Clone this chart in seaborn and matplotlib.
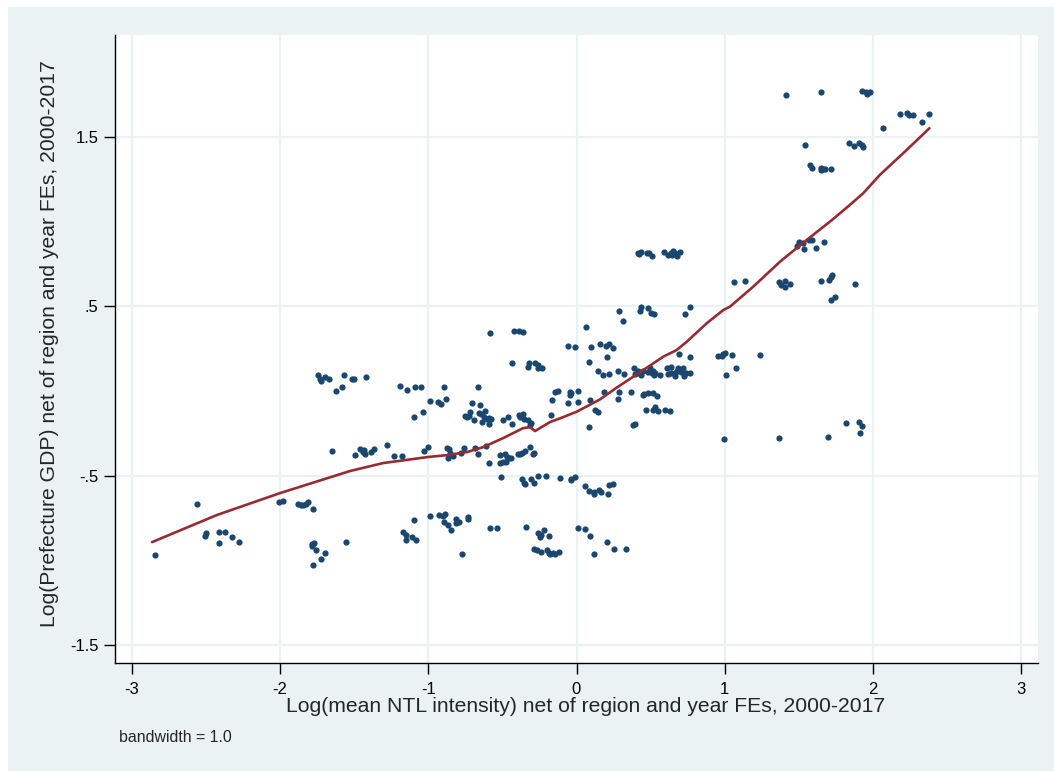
import numpy as np
import pandas as pd
import seaborn as sns
import matplotlib.pyplot as plt
from matplotlib.patches import Rectangle

# scatter: log NTL intensity (x) vs log prefecture GDP (y), both net of FEs
ntl = [
    -1.747, -1.734, -1.727, -1.694, -1.667, -1.566, -1.620, -1.579, -1.512, -1.653,
    -2.560, -2.009, -1.983, -1.882, -1.862, -1.848, -1.828, -1.815, -1.781,
    -2.500, -2.507, -2.413, -2.372, -2.413, -2.325, -2.278, -2.843,
    -1.788, -1.774, -1.788, -1.761, -1.694, -1.727, -1.781, -1.552,
    -0.585, -0.423, -0.390, -0.363, -0.054, -0.437, -0.323, -0.329, -0.282, -0.262, -0.262, -0.235,
    -1.499, -1.418, -1.190, -1.142, -1.089, -1.048, -0.894, -0.665,
    -0.988, -0.934, -0.914, -0.880, -1.035, -1.095,
    -0.706, -0.652, -0.719, -0.753, -0.739, -0.726, -0.692, -0.659, -0.645, -0.618, -0.625, -0.638,
    -0.605, -0.591, -0.578, -0.591,
    -0.497, -0.464, -0.437, -0.390, -0.383, -0.363, -0.356, -0.329, -0.309, -0.316,
    -0.175, -0.168, -0.148, -0.128, -0.060, -0.047, -0.047,
    -1.492, -1.458, -1.431, -1.425, -1.438, -1.384, -1.364, -1.277, -1.230, -1.176,
    -1.028, -1.001, -0.874, -0.860, -0.853, -0.867, -0.833, -0.780, -0.759,
    -0.685, -0.665, -0.612, -0.591,
    -0.517, -0.517, -0.497, -0.484, -0.477, -0.470, -0.457, -0.444, -0.397, -0.383, -0.370, -0.349,
    -0.316, -0.296, -0.289,
    -0.511, -0.370, -0.356, -0.349, -0.309, -0.289, -0.262, -0.208, -0.108, -0.040,
    -0.988, -0.927, -0.901, -0.887, -0.894, -0.867, -0.847, -0.813, -0.813, -0.793, -0.733, -0.733,
    -1.095, -1.169, -1.149, -1.149, -1.109, -1.082,
    -0.585, -0.538, -0.343, -0.773,
    -0.262, -0.242, -0.222, -0.249, -0.188,
    -0.289, -0.269, -0.242, -0.202, -0.188, -0.181, -0.161, -0.148, -0.121,
    0.289, 0.437, 0.430, 0.484, 0.504, 0.524, 0.316, 0.766, 0.733,
    0.067, -0.013, 0.101, 0.161, 0.202, 0.222, 0.249, 0.208, 0.081,
    0.148, 0.181, 0.222, 0.282, 0.323,
    0.390, 0.397, 0.417, 0.423, 0.437, 0.450, 0.484, 0.497, 0.511, 0.524, 0.517, 0.531, 0.565,
    0.612, 0.618, 0.638, 0.638, 0.665, 0.665, 0.679, 0.685, 0.706, 0.719, 0.726, 0.739, 0.766,
    0.692, 0.766,
    0.954, 0.981, 0.988, 1.001, 1.048, 1.075, 1.008, 1.237, 0.995,
    -0.034, 0.007, 0.013, 0.094, 0.188, 0.289, 0.282, 0.370,
    0.450, 0.457, 0.484, 0.517, 0.544,
    0.128, 0.148, 0.087, 0.383, 0.397,
    0.470, 0.517, 0.531, 0.551, 0.598, 0.632,
    -0.034, -0.007, 0.060, 0.087, 0.121, 0.121, 0.155, 0.168, 0.222, 0.249, 0.215,
    0.013, 0.054, 0.094, 0.208, 0.255, 0.336, 0.121,
    0.417, 0.437, 0.477, 0.491, 0.511, 0.423,
    0.591, 0.618, 0.638, 0.652, 0.665, 0.679, 0.699, 0.645,
    1.411, 1.653, 1.929, 1.956, 1.962, 1.983,
    2.184, 2.231, 2.245, 2.272, 2.379, 2.332, 2.070,
    1.539, 1.841, 1.875, 1.909, 1.929, 1.935,
    1.573, 1.586, 1.647, 1.660, 1.680, 1.720, 1.653,
    1.485, 1.499, 1.526, 1.532, 1.566, 1.586, 1.613, 1.667,
    1.062, 1.136, 1.364, 1.378, 1.405, 1.405, 1.438, 1.653, 1.707, 1.720, 1.727, 1.882, 1.714, 1.741,
    1.364, 1.694, 1.821, 1.909, 1.929, 1.915,
]
gdp = [
    0.092, 0.074, 0.062, 0.080, 0.074, 0.092, 0.003, 0.021, 0.074, -0.351,
    -0.665, -0.653, -0.647, -0.665, -0.670, -0.670, -0.665, -0.653, -0.694,
    -0.836, -0.854, -0.830, -0.830, -0.895, -0.859, -0.889, -0.966,
    -0.901, -0.895, -0.913, -0.936, -0.954, -0.989, -1.025, -0.889,
    0.340, 0.357, 0.357, 0.346, 0.263, 0.168, 0.168, 0.139, 0.168, 0.151, 0.133, 0.133,
    0.074, 0.080, 0.032, 0.009, 0.021, 0.021, 0.021, 0.021,
    -0.056, -0.062, -0.074, -0.044, -0.121, -0.151,
    -0.068, -0.080, -0.121, -0.145, -0.151, -0.145, -0.168, -0.127, -0.133, -0.115, -0.151, -0.180,
    -0.162, -0.157, -0.162, -0.192,
    -0.168, -0.151, -0.192, -0.139, -0.151, -0.133, -0.162, -0.168, -0.186, -0.198,
    -0.139, -0.050, -0.003, 0.003, -0.068, -0.003, -0.021,
    -0.375, -0.340, -0.346, -0.369, -0.357, -0.357, -0.340, -0.316, -0.381, -0.381,
    -0.351, -0.328, -0.334, -0.340, -0.363, -0.393, -0.381, -0.363, -0.334,
    -0.334, -0.369, -0.322, -0.422,
    -0.375, -0.422, -0.416, -0.369, -0.416, -0.387, -0.393, -0.393, -0.369, -0.369, -0.363, -0.351,
    -0.328, -0.369, -0.363,
    -0.505, -0.517, -0.540, -0.546, -0.517, -0.540, -0.499, -0.499, -0.511, -0.523,
    -0.735, -0.729, -0.735, -0.724, -0.771, -0.789, -0.818, -0.753, -0.777, -0.771, -0.741, -0.753,
    -0.759, -0.830, -0.848, -0.877, -0.859, -0.877,
    -0.806, -0.806, -0.800, -0.960,
    -0.836, -0.848, -0.818, -0.859, -0.854,
    -0.930, -0.936, -0.948, -0.936, -0.954, -0.960, -0.954, -0.960, -0.948,
    0.475, 0.493, 0.475, 0.487, 0.458, 0.452, 0.416, 0.493, 0.452,
    0.375, 0.257, 0.257, 0.275, 0.263, 0.275, 0.251, 0.198, 0.174,
    0.121, 0.097, 0.103, 0.121, 0.103,
    0.133, 0.103, 0.121, 0.109, 0.092, 0.121, 0.115, 0.133, 0.109, 0.092, 0.121, 0.109, 0.097,
    0.133, 0.103, 0.139, 0.109, 0.086, 0.109, 0.121, 0.133, 0.115, 0.133, 0.086, 0.109, 0.109,
    0.221, 0.198,
    0.204, 0.204, 0.221, 0.227, 0.210, 0.133, 0.092, 0.210, -0.281,
    -0.009, 0.003, -0.062, -0.050, -0.003, -0.003, -0.044, -0.003,
    -0.021, -0.015, -0.009, -0.009, -0.032,
    -0.109, -0.121, -0.210, -0.198, -0.192,
    -0.109, -0.109, -0.097, -0.115, -0.109, -0.115,
    -0.517, -0.505, -0.558, -0.588, -0.605, -0.594, -0.582, -0.594, -0.552, -0.546, -0.605,
    -0.806, -0.812, -0.854, -0.889, -0.930, -0.930, -0.960,
    0.812, 0.818, 0.812, 0.812, 0.794, 0.806,
    0.818, 0.800, 0.812, 0.824, 0.812, 0.794, 0.818, 0.800,
    1.745, 1.763, 1.769, 1.763, 1.751, 1.763,
    1.633, 1.639, 1.627, 1.627, 1.633, 1.586, 1.550,
    1.450, 1.462, 1.444, 1.462, 1.450, 1.438,
    1.332, 1.314, 1.314, 1.308, 1.308, 1.308, 1.302,
    0.853, 0.877, 0.871, 0.836, 0.889, 0.889, 0.842, 0.877,
    0.641, 0.647, 0.641, 0.623, 0.647, 0.611, 0.629, 0.647, 0.653, 0.670, 0.682, 0.629, 0.535, 0.552,
    -0.275, -0.269, -0.186, -0.180, -0.204, -0.245,
]

# lowess fit (bandwidth 1.0)
fit_x = [-2.864, -2.426, -2.001, -1.529, -1.306, -1.002, -0.874, -0.739, -0.631, -0.496,
         -0.361, -0.314, -0.280, -0.179, -0.111, 0.001, 0.159, 0.271, 0.451, 0.586,
         0.676, 0.744, 0.879, 0.991, 1.036, 1.193, 1.373, 1.553, 1.710, 1.845,
         1.935, 2.047, 2.228, 2.381]
fit_y = [-0.891, -0.731, -0.602, -0.472, -0.425, -0.389, -0.378, -0.360, -0.331, -0.278,
         -0.219, -0.213, -0.236, -0.183, -0.161, -0.122, -0.049, 0.020, 0.124, 0.203,
         0.242, 0.291, 0.400, 0.478, 0.498, 0.616, 0.763, 0.891, 0.999, 1.098,
         1.167, 1.275, 1.422, 1.550]

xticks = [-3, -2, -1, 0, 1, 2, 3]
yticks = [-1.5, -0.5, 0.5, 1.5]
ytick_labels = ['-1.5', '-.5', '.5', '1.5']

sns.set_style('white')
plt.rcParams['font.family'] = ['Liberation Sans', 'DejaVu Sans']

W, H = 1054, 771
fig = plt.figure(figsize=(W / 100, H / 100), dpi=100)
fig.patch.set_facecolor('white')
fig.patches.append(Rectangle((8 / W, 0), 1, 1 - 7 / H, transform=fig.transFigure,
                             facecolor='#EAF2F3', edgecolor='none', zorder=-10))

ax = fig.add_axes([115 / W, 1 - 663 / H, (1038 - 115) / W, (663 - 35) / H])
ax.set_facecolor('white')

df = pd.DataFrame({'ntl': ntl, 'gdp': gdp})
fit = pd.DataFrame({'x': fit_x, 'y': fit_y})

sns.scatterplot(data=df, x='ntl', y='gdp', color='#1A476F', s=20, linewidth=0,
                ax=ax, zorder=3)
sns.lineplot(data=fit, x='x', y='y', color='#982B32', linewidth=1.9, sort=False,
             estimator=None, ax=ax, zorder=4)

ax.set_xlim(-3.114, 3.114)
ax.set_ylim(-1.604, 2.10)
ax.set_xticks(xticks)
ax.set_xticklabels([str(t) for t in xticks])
ax.set_yticks(yticks)
ax.set_yticklabels(ytick_labels)
ax.grid(True, color='#EAF2F3', linewidth=1.6)
ax.set_axisbelow(True)

for side in ['top', 'right']:
    ax.spines[side].set_visible(False)
for side in ['left', 'bottom']:
    ax.spines[side].set_color('black')
    ax.spines[side].set_linewidth(1.0)

ax.tick_params(axis='both', direction='out', length=8, width=1, color='black',
               labelsize=12, labelcolor='black')
ax.tick_params(axis='x', pad=6, bottom=True)
ax.tick_params(axis='y', pad=4, left=True)
ax.set_xlabel('')
ax.set_ylabel('')

fig.text(586 / W, 1 - 706 / H, 'Log(mean NTL intensity) net of region and year FEs, 2000-2017',
         ha='center', va='center', fontsize=15.2)
fig.text(50 / W, 1 - 344 / H, 'Log(Prefecture GDP) net of region and year FEs, 2000-2017',
         ha='center', va='center', rotation=90, fontsize=15.2)
fig.text(119 / W, 1 - 737 / H, 'bandwidth = 1.0', ha='left', va='center', fontsize=11.4)

fig.savefig('out.png', dpi=100, facecolor=fig.get_facecolor())
